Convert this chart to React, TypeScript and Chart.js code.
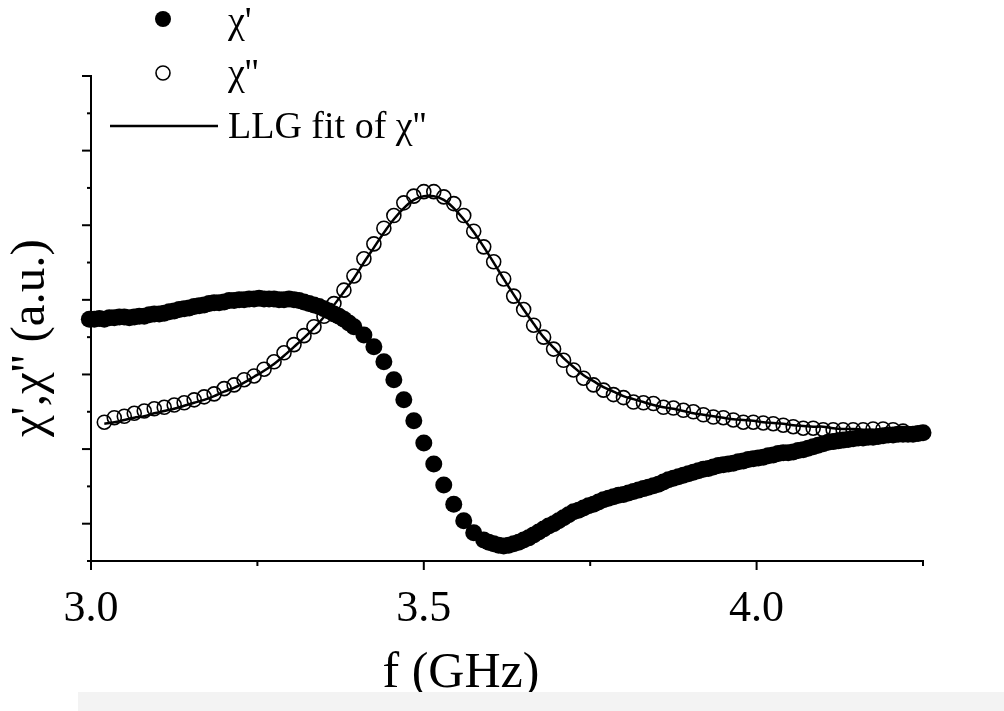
import { useEffect, useRef } from "react"
import { Chart, registerables } from "chart.js"

Chart.register(...registerables)

// χ' (filled circles): frequencies (GHz) and values
const FREQ_RE = [
  2.9900, 2.9975, 3.0050, 3.0125, 3.0200, 3.0275, 3.0350, 3.0425, 3.0500, 3.0575,
  3.0650, 3.0725, 3.0800, 3.0875, 3.0950, 3.1025, 3.1100, 3.1175, 3.1250, 3.1325,
  3.1400, 3.1475, 3.1550, 3.1625, 3.1700, 3.1775, 3.1850, 3.1925, 3.2000, 3.2075,
  3.2150, 3.2225, 3.2300, 3.2375, 3.2450, 3.2525, 3.2600, 3.2675, 3.2750, 3.2825,
  3.2900, 3.2975, 3.3050, 3.3125, 3.3200, 3.3275, 3.3350, 3.3425, 3.3500, 3.3575,
  3.3650, 3.3725, 3.3800, 3.3875, 3.3950,
  3.410, 3.425, 3.440, 3.455, 3.470, 3.485, 3.500, 3.515, 3.530, 3.545,
  3.560, 3.575, 3.590,
  3.5975, 3.6050, 3.6125, 3.6200, 3.6275, 3.6350, 3.6425, 3.6500, 3.6575, 3.6650,
  3.6725, 3.6800, 3.6875, 3.6950, 3.7025, 3.7100, 3.7175, 3.7250, 3.7325, 3.7400,
  3.7475, 3.7550, 3.7625, 3.7700, 3.7775, 3.7850, 3.7925, 3.8000, 3.8075, 3.8150,
  3.8225, 3.8300, 3.8375, 3.8450, 3.8525, 3.8600, 3.8675, 3.8750, 3.8825, 3.8900,
  3.8975, 3.9050, 3.9125, 3.9200, 3.9275, 3.9350, 3.9425, 3.9500, 3.9575, 3.9650,
  3.9725, 3.9800, 3.9875, 3.9950, 4.0025, 4.0100, 4.0175, 4.0250, 4.0325, 4.0400,
  4.0475, 4.0550, 4.0625, 4.0700, 4.0775, 4.0850, 4.0925, 4.1000, 4.1075, 4.1150,
  4.1225, 4.1300, 4.1375, 4.1450, 4.1525, 4.1600, 4.1675, 4.1750, 4.1825, 4.1900,
  4.1975, 4.2050, 4.2125, 4.2200, 4.2275, 4.2350, 4.2425, 4.2500, 4.2575, 4.2650,
]

const CHI_RE = [
  3.23, 3.24, 3.24, 3.25, 3.24, 3.26, 3.26, 3.27, 3.27, 3.26,
  3.27, 3.28, 3.28, 3.30, 3.31, 3.31, 3.32, 3.34, 3.35, 3.37,
  3.38, 3.39, 3.41, 3.42, 3.43, 3.45, 3.46, 3.46, 3.47, 3.49,
  3.49, 3.50, 3.50, 3.51, 3.51, 3.52, 3.51, 3.51, 3.51, 3.50,
  3.50, 3.51, 3.50, 3.49, 3.47, 3.45, 3.43, 3.41, 3.38, 3.35,
  3.31, 3.28, 3.24, 3.19, 3.14,
  3.03, 2.87, 2.67, 2.43, 2.16, 1.88, 1.58, 1.30, 1.02, 0.76,
  0.54, 0.38, 0.28,
  0.25, 0.23, 0.21, 0.20, 0.21, 0.23, 0.25, 0.28, 0.31, 0.35,
  0.39, 0.43, 0.47, 0.50, 0.54, 0.58, 0.62, 0.66, 0.68, 0.71,
  0.74, 0.76, 0.79, 0.82, 0.84, 0.86, 0.88, 0.89, 0.91, 0.93,
  0.95, 0.97, 0.99, 1.01, 1.03, 1.06, 1.09, 1.11, 1.13, 1.15,
  1.17, 1.19, 1.21, 1.23, 1.24, 1.26, 1.28, 1.29, 1.30, 1.31,
  1.33, 1.34, 1.36, 1.37, 1.38, 1.39, 1.41, 1.42, 1.44, 1.45,
  1.45, 1.46, 1.48, 1.49, 1.51, 1.53, 1.55, 1.57, 1.59, 1.60,
  1.61, 1.62, 1.63, 1.64, 1.65, 1.65, 1.66, 1.66, 1.67, 1.68,
  1.69, 1.69, 1.70, 1.70, 1.70, 1.70, 1.71, 1.72, 1.72, 1.72,
]

// χ'' (open circles) and its LLG fit share one frequency sweep (GHz)
const FREQ_IM = [
  3.020, 3.035, 3.050, 3.065, 3.080, 3.095, 3.110, 3.125,
  3.140, 3.155, 3.170, 3.185, 3.200, 3.215, 3.230, 3.245, 3.260, 3.275,
  3.290, 3.305, 3.320, 3.335, 3.350, 3.365, 3.380, 3.395, 3.410, 3.425,
  3.440, 3.455, 3.470, 3.485, 3.500, 3.515, 3.530, 3.545, 3.560, 3.575,
  3.590, 3.605, 3.620, 3.635, 3.650, 3.665, 3.680, 3.695, 3.710, 3.725,
  3.740, 3.755, 3.770, 3.785, 3.800, 3.815, 3.830, 3.845, 3.860, 3.875,
  3.890, 3.905, 3.920, 3.935, 3.950, 3.965, 3.980, 3.995, 4.010, 4.025,
  4.040, 4.055, 4.070, 4.085, 4.100, 4.115, 4.130, 4.145, 4.160, 4.175,
  4.190, 4.205, 4.220,
]

const CHI_IM = [
  1.86, 1.92, 1.94, 1.98, 2.01, 2.04, 2.06, 2.09,
  2.12, 2.16, 2.20, 2.24, 2.31, 2.36, 2.43, 2.48, 2.57, 2.67,
  2.79, 2.90, 3.02, 3.14, 3.28, 3.45, 3.63, 3.82, 4.05, 4.25,
  4.46, 4.63, 4.80, 4.89, 4.95, 4.95, 4.88, 4.79, 4.63, 4.42,
  4.21, 4.01, 3.78, 3.55, 3.37, 3.16, 3.00, 2.84, 2.69, 2.56,
  2.45, 2.36, 2.29, 2.23, 2.19, 2.13, 2.12, 2.11, 2.06, 2.05,
  2.02, 2.00, 1.96, 1.93, 1.92, 1.89, 1.86, 1.86, 1.85, 1.84,
  1.82, 1.80, 1.78, 1.78, 1.76, 1.76, 1.76, 1.76, 1.76, 1.77,
  1.77, 1.76, 1.74,
]

const LLG_FIT = [
  1.84, 1.86, 1.89, 1.92, 1.94, 1.98, 2.01, 2.04,
  2.08, 2.12, 2.16, 2.21, 2.27, 2.32, 2.39, 2.47, 2.55, 2.64,
  2.75, 2.87, 2.99, 3.12, 3.27, 3.43, 3.61, 3.79, 4.00, 4.20,
  4.40, 4.58, 4.73, 4.84, 4.89, 4.89, 4.84, 4.73, 4.58, 4.41,
  4.21, 4.00, 3.78, 3.57, 3.37, 3.18, 3.00, 2.86, 2.72, 2.60,
  2.49, 2.41, 2.33, 2.27, 2.21, 2.17, 2.13, 2.09, 2.06, 2.04,
  2.01, 1.98, 1.96, 1.94, 1.92, 1.90, 1.89, 1.88, 1.86, 1.85,
  1.84, 1.82, 1.81, 1.80, 1.80, 1.78, 1.77, 1.77, 1.76, 1.76,
  1.74, 1.74, 1.73,
]

const X_LABELS = [3.0, 3.5, 4.0]
const X_MINOR = [3.25, 3.75, 4.25]
const Y_MAJOR = [0.5, 1.5, 2.5, 3.5, 4.5, 5.5, 6.5]
const Y_MINOR = [0, 1, 2, 3, 4, 5, 6]

const SERIF = "'Liberation Serif', 'Times New Roman', serif"

const toPoints = (xs: number[], ys: number[]) => xs.map((f, i) => ({ x: f, y: ys[i] }))

const decorPlugin = {
  id: "decor",
  afterDraw(chart: any) {
    const { ctx, scales } = chart
    const x = scales.x
    const y = scales.y
    ctx.save()
    ctx.strokeStyle = "#000"
    ctx.fillStyle = "#000"
    ctx.lineWidth = 2

    const seg = (x1: number, y1: number, x2: number, y2: number) => {
      ctx.beginPath()
      ctx.moveTo(x1, y1)
      ctx.lineTo(x2, y2)
      ctx.stroke()
    }

    // x ticks
    X_LABELS.forEach((v) => {
      const px = x.getPixelForValue(v)
      seg(px, y.bottom, px, y.bottom + 9)
    })
    X_MINOR.forEach((v) => {
      const px = x.getPixelForValue(v)
      seg(px, y.bottom, px, y.bottom + 5)
    })
    // y ticks
    Y_MAJOR.forEach((v) => {
      const py = y.getPixelForValue(v)
      seg(x.left - 9, py, x.left, py)
    })
    Y_MINOR.forEach((v) => {
      const py = y.getPixelForValue(v)
      seg(x.left - 4, py, x.left, py)
    })

    // axis titles
    ctx.textAlign = "center"
    ctx.textBaseline = "alphabetic"
    ctx.font = `50px ${SERIF}`
    ctx.fillText("f (GHz)", 461, 687)

    ctx.save()
    ctx.translate(44, 338)
    ctx.rotate(-Math.PI / 2)
    ctx.font = `49px ${SERIF}`
    ctx.fillText("χ',χ'' (a.u.)", 0, 0)
    ctx.restore()

    // legend
    ctx.textAlign = "left"
    ctx.font = `38px ${SERIF}`
    ctx.beginPath()
    ctx.arc(163, 19, 8, 0, Math.PI * 2)
    ctx.fill()
    ctx.fillText("χ'", 228, 33)

    ctx.lineWidth = 1.6
    ctx.beginPath()
    ctx.arc(163, 73, 7, 0, Math.PI * 2)
    ctx.stroke()
    ctx.fillText("χ''", 228, 85)

    ctx.lineWidth = 2.5
    seg(110, 126, 218, 126)
    ctx.fillText("LLG fit of χ''", 228, 138)

    ctx.restore()
  },
}

export default function App() {
  const chartRef = useRef<HTMLCanvasElement>(null)
  const chartInstance = useRef<Chart | null>(null)

  useEffect(() => {
    if (!chartRef.current) return
    if (chartInstance.current) chartInstance.current.destroy()
    const ctx = chartRef.current.getContext("2d")
    if (!ctx) return

    chartInstance.current = new Chart(ctx, {
      type: "scatter",
      data: {
        datasets: [
          {
            label: "χ'",
            data: toPoints(FREQ_RE, CHI_RE),
            backgroundColor: "#000",
            borderColor: "#000",
            borderWidth: 0,
            pointRadius: 8.5,
            showLine: false,
            clip: false,
          },
          {
            label: "χ''",
            data: toPoints(FREQ_IM, CHI_IM),
            backgroundColor: "rgba(0,0,0,0)",
            borderColor: "#000",
            borderWidth: 1.6,
            pointRadius: 7,
            showLine: false,
            clip: false,
          },
          {
            label: "LLG fit of χ''",
            data: toPoints(FREQ_IM, LLG_FIT),
            borderColor: "#000",
            borderWidth: 2.5,
            pointRadius: 0,
            showLine: true,
            tension: 0.3,
            clip: false,
          },
        ],
      },
      options: {
        responsive: true,
        maintainAspectRatio: false,
        animation: false,
        layout: { padding: { left: 0, top: 76, right: 81, bottom: 0 } },
        plugins: {
          legend: { display: false },
          tooltip: { enabled: false },
        },
        scales: {
          x: {
            type: "linear",
            min: 3.0,
            max: 4.25,
            afterBuildTicks: (scale: any) => {
              scale.ticks = X_LABELS.map((v) => ({ value: v }))
            },
            afterFit: (scale: any) => {
              scale.height = 150
            },
            grid: { display: false },
            border: { display: true, color: "#000", width: 2 },
            ticks: {
              color: "#000",
              padding: 14,
              maxRotation: 0,
              font: { family: SERIF, size: 44 },
              callback: (v: any) => Number(v).toFixed(1),
            },
          },
          y: {
            type: "linear",
            min: 0,
            max: 6.5,
            afterFit: (scale: any) => {
              scale.width = 91
            },
            grid: { display: false },
            border: { display: true, color: "#000", width: 2 },
            ticks: { display: false },
          },
        },
      },
      plugins: [decorPlugin],
    })

    return () => {
      if (chartInstance.current) {
        chartInstance.current.destroy()
        chartInstance.current = null
      }
    }
  }, [])

  return (
    <div style={{ position: "fixed", left: 0, top: 0, width: 1004, height: 711, background: "#fff" }}>
      <div style={{ position: "absolute", left: 78, top: 692, width: 926, height: 19, background: "#f3f3f3" }} />
      <canvas ref={chartRef}></canvas>
    </div>
  )
}
